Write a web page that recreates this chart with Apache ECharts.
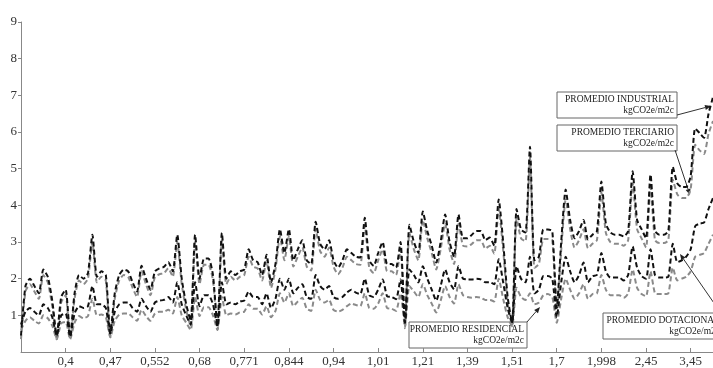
<!DOCTYPE html>
<html>
<head>
<meta charset="utf-8">
<script src="https://cdn.jsdelivr.net/npm/echarts@6/dist/echarts.min.js"></script>
<style>
    html, body { margin: 0; padding: 0; background: #fff; }
    #main { width: 713px; height: 368px; }
</style>
</head>
<body>
<div id="main"></div>
<script>
//etiquetas del eje x (una cada 10 puntos)
var tickLabels = ['0,4', '0,47', '0,552', '0,68', '0,771', '0,844', '0,94', '1,01',
    '1,21', '1,39', '1,51', '1,7', '1,998', '2,45', '3,45'];

//promedio industrial kgCO2e/m2c
var industrial = [
    0.45, 1.8, 2.0, 1.8, 1.6, 2.25, 2.05, 1.4, 0.45, 1.5,
    1.7, 0.42, 1.6, 2.1, 2.0, 2.15, 3.2, 2.05, 2.2, 2.1,
    0.5, 1.6, 2.1, 2.25, 2.2, 1.9, 1.65, 2.35, 2.0, 1.7,
    2.2, 2.28, 2.32, 2.45, 2.2, 3.2, 2.0, 1.3, 0.85, 3.2,
    2.0, 2.55, 2.55, 2.1, 0.7, 3.25, 2.0, 2.2, 2.1, 2.2,
    2.25, 2.8, 2.5, 2.45, 2.1, 2.65, 1.9, 2.4, 3.35, 2.7,
    3.35, 2.5, 2.8, 3.05, 2.5, 2.4, 3.55, 2.95, 2.8, 3.05,
    2.5, 2.3, 2.5, 2.8, 2.7, 2.6, 2.58, 3.66, 2.5, 2.35,
    2.7, 3.0, 2.4, 2.4, 2.3, 3.0, 0.8, 3.47, 3.0, 2.7,
    3.83, 3.3, 2.9, 2.44, 3.0, 3.75, 3.0, 2.6, 3.75, 3.1,
    3.1, 3.2, 3.3, 3.3, 3.05, 3.12, 2.9, 4.16, 3.0, 1.5,
    0.8, 3.9, 3.34, 3.26, 5.6, 2.5, 2.6, 3.34, 3.34, 3.3,
    1.2, 3.0, 4.43, 3.6, 3.1, 3.3, 3.6, 3.07, 3.2, 3.3,
    4.65, 3.5, 3.26, 3.2, 3.2, 3.15, 3.3, 4.93, 3.6, 3.35,
    3.1, 4.84, 3.3, 3.2, 3.2, 3.3, 5.05, 4.6, 4.5, 4.5,
    4.8, 6.1, 5.97, 5.84, 6.5, 6.95
];
//promedio terciario
var terciario = [
    0.35, 1.65, 1.85, 1.65, 1.45, 2.1, 1.9, 1.25, 0.35, 1.35,
    1.55, 0.35, 1.45, 1.95, 1.85, 2.0, 3.0, 1.9, 2.05, 1.95,
    0.4, 1.45, 1.95, 2.1, 2.05, 1.75, 1.5, 2.2, 1.85, 1.55,
    2.05, 2.12, 2.15, 2.28, 2.05, 3.0, 1.85, 1.15, 0.7, 3.0,
    1.85, 2.38, 2.38, 1.95, 0.6, 3.05, 1.85, 2.05, 1.95, 2.05,
    2.1, 2.6, 2.33, 2.28, 1.95, 2.48, 1.75, 2.25, 3.15, 2.5,
    3.15, 2.33, 2.6, 2.85, 2.33, 2.22, 3.35, 2.75, 2.6, 2.85,
    2.33, 2.12, 2.3, 2.6, 2.5, 2.4, 2.38, 3.45, 2.3, 2.15,
    2.5, 2.8, 2.2, 2.2, 2.1, 2.8, 0.65, 3.25, 2.8, 2.5,
    3.6, 3.1, 2.7, 2.25, 2.8, 3.5, 2.8, 2.4, 3.5, 2.9,
    2.88, 2.95, 3.05, 3.05, 2.82, 2.9, 2.68, 3.9, 2.78, 1.35,
    0.7, 3.65, 3.1, 3.02, 5.3, 2.3, 2.4, 3.08, 3.08, 3.05,
    1.05, 2.78, 4.15, 3.35, 2.85, 3.05, 3.35, 2.83, 2.95, 3.05,
    4.35, 3.25, 3.0, 2.95, 2.95, 2.9, 3.05, 4.6, 3.35, 3.1,
    2.85, 4.5, 3.05, 2.97, 2.97, 3.05, 4.7, 4.3, 4.2, 4.2,
    4.45, 5.65, 5.5, 5.4, 5.95, 6.3
];
//promedio dotacional
var dotacional = [
    0.75, 1.1, 1.2, 1.1, 1.0, 1.3, 1.2, 0.95, 0.45, 1.0,
    1.05, 0.42, 1.05, 1.25, 1.2, 1.25, 1.8, 1.3, 1.3, 1.2,
    0.5, 1.1, 1.3, 1.35, 1.35, 1.2, 1.1, 1.45, 1.25, 1.1,
    1.35, 1.4, 1.42, 1.5, 1.35, 1.9, 1.3, 1.0, 0.75, 1.9,
    1.25, 1.55, 1.55, 1.3, 0.7, 1.9, 1.3, 1.35, 1.3, 1.38,
    1.4, 1.65, 1.5, 1.5, 1.3, 1.6, 1.2, 1.45, 2.0, 1.7,
    2.0, 1.6, 1.75, 1.85, 1.5, 1.45, 2.1, 1.8, 1.7, 1.8,
    1.5, 1.45, 1.5, 1.62, 1.7, 1.62, 1.58, 2.0, 1.55, 1.5,
    1.7, 1.98, 1.52, 1.5, 1.44, 1.98, 0.8, 2.25, 2.1, 1.9,
    2.34, 2.0, 1.7, 1.4, 1.8, 2.25, 1.9, 1.71, 2.34, 2.0,
    1.98, 1.98, 2.0, 1.98, 1.9, 1.9, 1.85, 2.53, 1.9, 1.2,
    0.8, 2.34, 2.0, 1.9, 2.6, 1.6, 1.7, 2.07, 2.07, 2.0,
    0.95, 1.9, 2.6, 2.2, 1.9, 2.1, 2.44, 1.9, 2.07, 2.1,
    2.7, 2.2, 2.03, 2.03, 2.03, 1.95, 2.1, 2.88, 2.3, 2.07,
    2.0, 2.8, 2.1, 2.03, 2.03, 2.05, 2.95, 2.45, 2.5, 2.6,
    2.8, 3.43, 3.5, 3.53, 3.9, 4.2
];
//promedio residencial
var residencial = [
    0.6, 0.85, 0.95, 0.85, 0.78, 1.0, 0.92, 0.72, 0.35, 0.78,
    0.82, 0.35, 0.8, 0.98, 0.92, 0.98, 1.45, 1.0, 1.02, 0.95,
    0.4, 0.85, 1.02, 1.05, 1.05, 0.95, 0.85, 1.15, 0.98, 0.85,
    1.05, 1.1, 1.1, 1.15, 1.05, 1.5, 1.0, 0.8, 0.6, 1.5,
    0.98, 1.22, 1.22, 1.0, 0.6, 1.5, 1.0, 1.05, 1.02, 1.08,
    1.1, 1.3, 1.18, 1.18, 1.02, 1.25, 0.95, 1.12, 1.6, 1.35,
    1.6, 1.25, 1.38, 1.48, 1.18, 1.12, 1.7, 1.42, 1.35, 1.42,
    1.15, 1.1, 1.15, 1.25, 1.32, 1.28, 1.25, 1.6, 1.2, 1.18,
    1.32, 1.6, 1.2, 1.18, 1.12, 1.6, 0.7, 1.8, 1.65, 1.5,
    1.85, 1.55, 1.32, 1.08, 1.4, 1.8, 1.5, 1.32, 1.85, 1.55,
    1.5, 1.48, 1.5, 1.48, 1.42, 1.42, 1.38, 2.0, 1.45, 0.95,
    0.7, 1.75, 1.5, 1.42, 1.6, 1.3, 1.35, 1.55, 1.58, 1.5,
    0.8, 1.45, 2.0, 1.7, 1.45, 1.6, 1.85, 1.45, 1.58, 1.6,
    2.1, 1.7, 1.55, 1.55, 1.55, 1.48, 1.6, 2.25, 1.75, 1.58,
    1.52, 2.2, 1.6, 1.58, 1.58, 1.6, 2.3, 1.95, 2.0, 2.05,
    2.2, 2.6, 2.65, 2.7, 2.95, 3.2
];

var FONT = '"Liberation Serif", "DejaVu Serif", serif';

//indices de categoria
var xCategories = [];
for (var i = 0; i < industrial.length; i++) {
    xCategories.push(String(i));
}

function showTick(index) {
    return index > 0 && index % 10 === 0;
}

function dashedLine(name, data, color, z) {
    return {
        name: name,
        type: 'line',
        data: data,
        showSymbol: false,
        smooth: 0.2,
        z: z,
        lineStyle: {
            color: color,
            width: 2,
            type: [5, 3]
        }
    };
}

//cuadro de texto con borde
function labelBox(x, y, w, title) {
    return {
        type: 'group',
        children: [{
            type: 'rect',
            shape: {x: x, y: y, width: w, height: 26},
            style: {fill: '#fff', stroke: '#666', lineWidth: 1}
        }, {
            type: 'text',
            style: {
                x: x + w - 3,
                y: y + 2,
                text: title + '\nkgCO2e/m2c',
                align: 'right',
                verticalAlign: 'top',
                font: '9.5px ' + FONT,
                lineHeight: 11,
                fill: '#222'
            }
        }]
    };
}

//flecha de un punto a otro
function arrow(x1, y1, x2, y2) {
    var a = Math.atan2(y2 - y1, x2 - x1);
    var len = 6, w = 2.5;
    var bx = x2 - len * Math.cos(a), by = y2 - len * Math.sin(a);
    return {
        type: 'group',
        children: [{
            type: 'line',
            shape: {x1: x1, y1: y1, x2: bx, y2: by},
            style: {stroke: '#333', lineWidth: 1}
        }, {
            type: 'polygon',
            shape: {
                points: [[x2, y2],
                    [bx + w * Math.sin(a), by - w * Math.cos(a)],
                    [bx - w * Math.sin(a), by + w * Math.cos(a)]]
            },
            style: {fill: '#222'}
        }]
    };
}

var chart = echarts.init(document.getElementById('main'));
var option = {
    animation: false,
    backgroundColor: '#fff',
    grid: {left: 21, right: 0, top: 22, bottom: 15},
    xAxis: {
        type: 'category',
        boundaryGap: false,
        data: xCategories,
        axisLine: {lineStyle: {color: '#888', width: 1}},
        axisTick: {
            inside: true,
            length: 4,
            interval: showTick,
            lineStyle: {color: '#888'}
        },
        axisLabel: {
            interval: showTick,
            formatter: function (value, index) {
                return tickLabels[index / 10 - 1];
            },
            margin: 3,
            color: '#333',
            fontFamily: FONT,
            fontSize: 13
        },
        splitLine: {show: false}
    },
    yAxis: {
        type: 'value',
        min: 0,
        max: 9,
        interval: 1,
        axisLine: {show: true, lineStyle: {color: '#888', width: 1}},
        axisTick: {show: true, length: 3, lineStyle: {color: '#888'}},
        axisLabel: {
            showMinLabel: false,
            margin: 4,
            color: '#333',
            fontFamily: FONT,
            fontSize: 13
        },
        splitLine: {show: false}
    },
    series: [
        dashedLine('PROMEDIO TERCIARIO', terciario, '#8a8a8a', 2),
        dashedLine('PROMEDIO RESIDENCIAL', residencial, '#8a8a8a', 2),
        dashedLine('PROMEDIO INDUSTRIAL', industrial, '#111', 3),
        dashedLine('PROMEDIO DOTACIONAL', dotacional, '#111', 3)
    ],
    graphic: [
        labelBox(557, 92, 120, 'PROMEDIO INDUSTRIAL'),
        arrow(677, 115, 711, 106),
        labelBox(557, 125, 120, 'PROMEDIO TERCIARIO'),
        arrow(675, 150, 690, 195),
        labelBox(409, 322, 118, 'PROMEDIO RESIDENCIAL'),
        arrow(527, 322, 540, 307),
        labelBox(603, 313, 120, 'PROMEDIO DOTACIONAL'),
        arrow(716, 306, 680, 254)
    ]
};
chart.setOption(option);
</script>
</body>
</html>
